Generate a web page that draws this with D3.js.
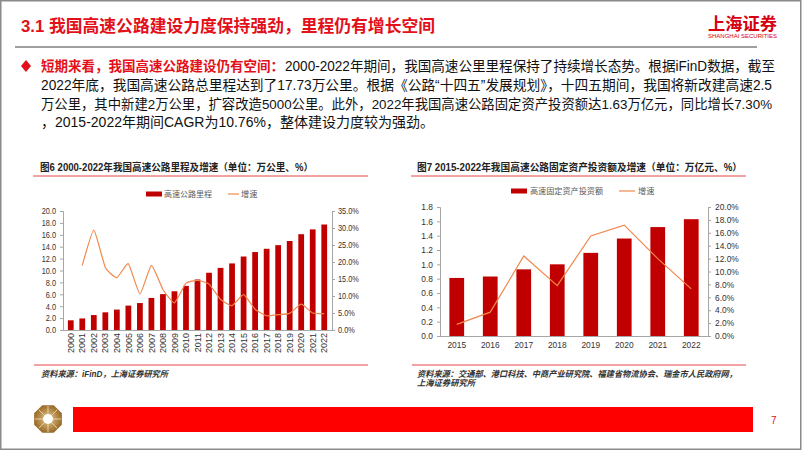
<!DOCTYPE html>
<html><head><meta charset="utf-8">
<script src="https://cdn.jsdelivr.net/npm/d3@7"></script>
<style>
html,body{margin:0;padding:0;background:#fff;}
svg{display:block;}
text{font-family:"Liberation Sans","Noto Sans CJK SC",sans-serif;}
</style></head>
<body><svg id="c" width="802" height="451"></svg>
<script>
// ---------- data ----------
const years1 = ["2000","2001","2002","2003","2004","2005","2006","2007","2008","2009","2010","2011","2012","2013","2014","2015","2016","2017","2018","2019","2020","2021","2022"];
const mileage = [1.63,1.94,2.51,2.97,3.43,4.10,4.53,5.39,6.03,6.51,7.41,8.49,9.62,10.44,11.19,12.35,13.10,13.65,14.26,14.96,16.10,16.91,17.73];
const growth1 = [null,19.0,29.4,18.4,15.4,19.5,10.6,19.0,11.9,8.0,13.8,14.6,13.5,9.0,7.2,10.4,6.1,4.2,4.5,4.9,7.6,5.0,4.8];
const ticksL1 = [0,2,4,6,8,10,12,14,16,18,20];
const ticksR1 = [0,5,10,15,20,25,30,35];

const years2 = ["2015","2016","2017","2018","2019","2020","2021","2022"];
const invest = [0.81,0.83,0.93,1.00,1.16,1.36,1.52,1.63];
const growth2 = [1.8,3.7,12.4,7.8,15.5,17.2,12.0,7.3];
const ticksL2 = [0,0.2,0.4,0.6,0.8,1.0,1.2,1.4,1.6,1.8];
const ticksR2 = [0,2,4,6,8,10,12,14,16,18,20];

const title = "3.1 我国高速公路建设力度保持强劲，里程仍有增长空间";
const paraLead = "短期来看，我国高速公路建设仍有空间：";
const paraLines = [
  "2000-2022年期间，我国高速公里里程保持了持续增长态势。根据iFinD数据，截至",
  "2022年底，我国高速公路总里程达到了17.73万公里。根据《公路“十四五”发展规划》，十四五期间，我国将新改建高速2.5",
  "万公里，其中新建2万公里，扩容改造5000公里。此外，2022年我国高速公路固定资产投资额达1.63万亿元，同比增长7.30%",
  "，2015-2022年期间CAGR为10.76%，整体建设力度较为强劲。"
];
const chart1Title = "图6 2000-2022年我国高速公路里程及增速（单位：万公里、%）";
const chart2Title = "图7 2015-2022年我国高速公路固定资产投资额及增速（单位：万亿元、%）";
const legend1 = ["高速公路里程","增速"];
const legend2 = ["高速固定资产投资额","增速"];
const source1 = "资料来源：iFinD，上海证券研究所";
const source2 = ["资料来源：交通部、港口科技、中商产业研究院、福建省物流协会、瑞金市人民政府网，","上海证券研究所"];

// ---------- styles ----------
const RED = "#e3101a", BAR = "#c00000", LINE = "#f0884c", AXIS = "#a6a6a6", TXT = "#333";
const svg = d3.select("#c");

// slide border
svg.append("rect").attr("x",0.75).attr("y",0.75).attr("width",800).attr("height",448.5)
  .attr("fill","none").attr("stroke","#8a8a8a").attr("stroke-width",1.5);

// header
svg.append("text").attr("x",21).attr("y",32).attr("font-size",17).attr("font-weight","bold")
  .attr("fill",RED).attr("textLength",414).attr("lengthAdjust","spacingAndGlyphs").text(title);
svg.append("line").attr("x1",15).attr("x2",757).attr("y1",47).attr("y2",47).attr("stroke","#7f7f7f").attr("stroke-width",1.5);
svg.append("text").attr("x",708).attr("y",30).attr("font-size",17).attr("font-weight","bold")
  .attr("fill","#d7000f").attr("textLength",69).attr("lengthAdjust","spacingAndGlyphs").text("上海证券");
svg.append("text").attr("x",708).attr("y",38).attr("font-size",5.5)
  .attr("fill","#d7000f").attr("textLength",69).attr("lengthAdjust","spacingAndGlyphs").text("SHANGHAI SECURITIES");

// paragraph
svg.append("path").attr("d","M26,60 L31,66 L26,72 L21,66 Z").attr("fill",RED);
svg.append("text").attr("x",41).attr("y",71).attr("font-size",13.5).attr("font-weight","bold").attr("fill",RED)
  .attr("textLength",243).attr("lengthAdjust","spacingAndGlyphs").text(paraLead);
const pStarts = [285,41,41,41], pLens = [490,731,731,null], pBase = [71,90,109,127], pSize = [14,14,13.6,14];
paraLines.forEach((t,i)=>{
  const el = svg.append("text").attr("x",pStarts[i]).attr("y",pBase[i]).attr("font-size",pSize[i]).attr("fill","#111").text(t);
  if(pLens[i]) el.attr("textLength",pLens[i]).attr("lengthAdjust","spacingAndGlyphs");
});

// ---------- chart helpers ----------
function chartFrame(t, tx, tLen, lx1, lx2){
  svg.append("text").attr("x",tx).attr("y",171).attr("font-size",10).attr("font-weight","bold").attr("fill","#222")
    .attr("textLength",tLen).attr("lengthAdjust","spacingAndGlyphs").text(t);
  svg.append("line").attr("x1",lx1).attr("x2",lx2).attr("y1",176).attr("y2",176).attr("stroke","#e8464a").attr("stroke-width",1);
  svg.append("line").attr("x1",lx1+1).attr("x2",lx2).attr("y1",365).attr("y2",365).attr("stroke","#e8464a").attr("stroke-width",1);
}
function styleAxis(g){
  g.selectAll("path.domain").attr("stroke",AXIS);
  g.selectAll(".tick line").attr("stroke",AXIS);
  g.selectAll("text").attr("fill",TXT).attr("font-family","'Liberation Sans',Arial,sans-serif");
}

// ---------- chart 1 ----------
chartFrame(chart1Title, 40, 273, 33, 368);
{
  const x = d3.scaleBand().domain(years1).range([65,330]).paddingInner(0.5).paddingOuter(0.25);
  const yL = d3.scaleLinear().domain([0,20]).range([330,211]);
  const yR = d3.scaleLinear().domain([0,35]).range([330,211]);
  // legend
  svg.append("rect").attr("x",146).attr("y",191.5).attr("width",16).attr("height",5).attr("fill",BAR);
  svg.append("text").attr("x",164).attr("y",197).attr("font-size",8.2).attr("fill","#595959")
    .attr("textLength",48).attr("lengthAdjust","spacingAndGlyphs").text(legend1[0]);
  svg.append("line").attr("x1",228).attr("x2",239).attr("y1",194).attr("y2",194).attr("stroke",LINE).attr("stroke-width",1.2);
  svg.append("text").attr("x",241).attr("y",197).attr("font-size",8.2).attr("fill","#595959").text(legend1[1]);

  const gL = svg.append("g").attr("transform","translate(63,0)")
    .call(d3.axisLeft(yL).tickValues(ticksL1).tickSize(3).tickSizeOuter(3).tickFormat(d3.format(".1f")));
  styleAxis(gL);
  gL.selectAll("text").attr("font-size",9).attr("x",-7/0.82).attr("transform","scale(0.82,1)");
  const gR = svg.append("g").attr("transform","translate(332,0)")
    .call(d3.axisRight(yR).tickValues(ticksR1).tickSize(3).tickSizeOuter(3).tickFormat(d=>d.toFixed(1)+"%"));
  styleAxis(gR);
  gR.selectAll("text").attr("font-size",9).attr("x",6/0.82).attr("transform","scale(0.82,1)");
  const gX = svg.append("g").attr("transform","translate(0,330)")
    .call(d3.axisBottom(x).tickSize(0).tickSizeOuter(0));
  gX.select("path.domain").attr("d","M63,0.5H332").attr("stroke",AXIS);
  gX.selectAll("text").attr("font-size",9).attr("fill",TXT).attr("font-family","'Liberation Sans',Arial,sans-serif")
    .attr("text-anchor","end").attr("dy","0.35em").attr("y",0).attr("transform","translate(0,3) rotate(-90)");

  svg.append("g").selectAll("rect").data(years1).join("rect")
    .attr("x",d=>x(d)).attr("width",x.bandwidth())
    .attr("y",(d,i)=>yL(mileage[i])).attr("height",(d,i)=>330-yL(mileage[i])).attr("fill",BAR);
  const line = d3.line().defined(d=>d[1]!=null).x(d=>x(d[0])+x.bandwidth()/2).y(d=>yR(d[1]))
    .curve(d3.curveCardinal.tension(0.55));
  svg.append("path").datum(years1.map((y,i)=>[y,growth1[i]]))
    .attr("d",line).attr("fill","none").attr("stroke",LINE).attr("stroke-width",1.2);

  svg.append("text").attr("x",41).attr("y",377).attr("font-size",8.5).attr("font-style","italic").attr("font-weight","bold")
    .attr("fill","#333").attr("textLength",127).attr("lengthAdjust","spacingAndGlyphs").text(source1);
}

// ---------- chart 2 ----------
chartFrame(chart2Title, 417, 325, 411, 746);
{
  const x = d3.scaleBand().domain(years2).range([440,708]).paddingInner(0.56).paddingOuter(0.28);
  const yL = d3.scaleLinear().domain([0,1.8]).range([336,207]);
  const yR = d3.scaleLinear().domain([0,20]).range([336,207]);
  svg.append("rect").attr("x",511).attr("y",188.5).attr("width",16).attr("height",5).attr("fill",BAR);
  svg.append("text").attr("x",530).attr("y",194).attr("font-size",8.2).attr("fill","#595959")
    .attr("textLength",73).attr("lengthAdjust","spacingAndGlyphs").text(legend2[0]);
  svg.append("line").attr("x1",619).attr("x2",635).attr("y1",191).attr("y2",191).attr("stroke",LINE).attr("stroke-width",1.2);
  svg.append("text").attr("x",638).attr("y",194).attr("font-size",8.2).attr("fill","#595959").text(legend2[1]);

  const gL = svg.append("g").attr("transform","translate(440,0)")
    .call(d3.axisLeft(yL).tickValues(ticksL2).tickSize(3).tickSizeOuter(3).tickFormat(d3.format(".1f")));
  styleAxis(gL);
  gL.selectAll("text").attr("font-size",8.4).attr("x",-7);
  const gR = svg.append("g").attr("transform","translate(708,0)")
    .call(d3.axisRight(yR).tickValues(ticksR2).tickSize(3).tickSizeOuter(3).tickFormat(d=>d.toFixed(1)+"%"));
  styleAxis(gR);
  gR.selectAll("text").attr("font-size",8.4).attr("x",7);
  const gX = svg.append("g").attr("transform","translate(0,336)")
    .call(d3.axisBottom(x).tickSize(0).tickSizeOuter(0));
  gX.select("path.domain").attr("d","M440,0.5H708").attr("stroke",AXIS);
  gX.selectAll("text").attr("font-size",8.4).attr("fill",TXT).attr("font-family","'Liberation Sans',Arial,sans-serif").attr("y",6);

  svg.append("g").selectAll("rect").data(years2).join("rect")
    .attr("x",d=>x(d)).attr("width",x.bandwidth())
    .attr("y",(d,i)=>yL(invest[i])).attr("height",(d,i)=>336-yL(invest[i])).attr("fill",BAR);
  const line = d3.line().x(d=>x(d[0])+x.bandwidth()/2).y(d=>yR(d[1]));
  svg.append("path").datum(years2.map((y,i)=>[y,growth2[i]]))
    .attr("d",line).attr("fill","none").attr("stroke",LINE).attr("stroke-width",1.2);

  svg.append("text").attr("x",417).attr("y",377).attr("font-size",8.5).attr("font-style","italic").attr("font-weight","bold")
    .attr("fill","#333").attr("textLength",320).attr("lengthAdjust","spacingAndGlyphs").text(source2[0]);
  svg.append("text").attr("x",417).attr("y",386).attr("font-size",8.5).attr("font-style","italic").attr("font-weight","bold")
    .attr("fill","#333").attr("textLength",58).attr("lengthAdjust","spacingAndGlyphs").text(source2[1]);
}

// ---------- footer ----------
{
  const cx=48, cy=419, R=15;
  const oct = d3.range(8).map(k=>{const a=Math.PI/8+k*Math.PI/4; return [cx+R*Math.cos(a), cy+R*Math.sin(a)];});
  const defs = svg.append("defs");
  const gr = defs.append("radialGradient").attr("id","gold");
  gr.append("stop").attr("offset","0%").attr("stop-color","#e8c98a");
  gr.append("stop").attr("offset","100%").attr("stop-color","#9a6b2a");
  svg.append("polygon").attr("points",oct.map(p=>p.join(",")).join(" ")).attr("fill","url(#gold)");
  d3.range(8).forEach(k=>{
    const a=k*Math.PI/4;
    svg.append("line").attr("x1",cx+5*Math.cos(a)).attr("y1",cy+5*Math.sin(a))
      .attr("x2",cx+13*Math.cos(a)).attr("y2",cy+13*Math.sin(a)).attr("stroke","#f3e2bf").attr("stroke-width",0.8);
  });
  svg.append("circle").attr("cx",cx).attr("cy",cy).attr("r",5).attr("fill","#fff");
  svg.append("rect").attr("x",73).attr("y",407).attr("width",680).attr("height",25).attr("fill","#ff0000");
  svg.append("text").attr("x",771).attr("y",424).attr("font-size",10).attr("fill",RED).text("7");
}
</script></body></html>
